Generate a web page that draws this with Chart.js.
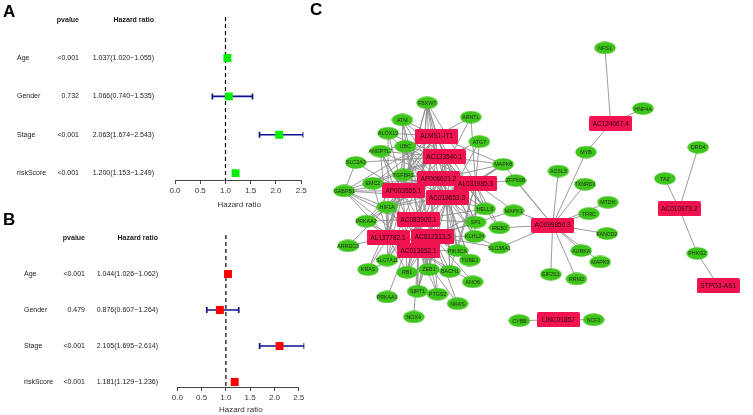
<!DOCTYPE html>
<html>
<head>
<meta charset="utf-8">
<script src="https://cdn.jsdelivr.net/npm/chart.js@4.4.1/dist/chart.umd.min.js"></script>
<style>
body { margin: 0; background: #fff; font-family: "Liberation Sans", Arial, sans-serif; }
#wrap { position: relative; width: 753px; height: 415px; overflow: hidden; }
canvas { position: absolute; }
.tag { position: absolute; font-weight: bold; font-size: 17px; line-height: 17px; color: #000; }
</style>
</head>
<body>
<div id="wrap">
  <canvas id="forestA" width="310" height="215" style="left:0;top:0"></canvas>
  <canvas id="forestB" width="310" height="215" style="left:0;top:200px"></canvas>
  <canvas id="network" width="453" height="415" style="left:300px;top:0"></canvas>
  <div class="tag" style="left:3px;top:3px">A</div>
  <div class="tag" style="left:3px;top:211px">B</div>
  <div class="tag" style="left:310px;top:1px">C</div>
</div>
<script>
// forest plots (A = univariate, B = multivariate)
const rowNames = ['Age', 'Gender', 'Stage', 'riskScore'];
const pvalA = ['<0.001', '0.732', '<0.001', '<0.001'];
const hrA = [1.037, 1.066, 2.063, 1.200];
const lowA = [1.020, 0.740, 1.674, 1.153];
const highA = [1.055, 1.535, 2.543, 1.249];
const pvalB = ['<0.001', '0.479', '<0.001', '<0.001'];
const hrB = [1.044, 0.876, 2.105, 1.181];
const lowB = [1.026, 0.607, 1.695, 1.129];
const highB = [1.062, 1.264, 2.614, 1.236];
const hrTicks = [0, 0.5, 1, 1.5, 2, 2.5];

// network (C): lncRNAs (red boxes) and genes (green ellipses), layout units
const lncNames = ['ALMS1-IT1', 'AC133540.1', 'AP006621.2', 'AL031985.3', 'AP003555.1', 'AC018653.3',
  'AC083900.1', 'AL137782.1', 'AC012313.5', 'AC013652.1', 'AC124067.4', 'AC099850.3',
  'AC010973.2', 'STPG3-AS1', 'LINC01857'];
const lncX = [432, 440, 434, 473, 397, 443, 413, 381, 428, 413, 615, 554, 687, 728, 560];
const lncY = [132, 154, 177, 182, 190, 197, 220, 239, 238, 253, 119, 226, 209, 290, 326];

const geneNames = ['FBXW7', 'ATM', 'ARNTL', 'ALOX12', 'ATG7', 'UBC', 'ANGPTL7', 'SLC2A3', 'MAPK8',
  'TGFBR1', 'ZFP69B', 'EMC2', 'GABPB1', 'HIF1A', 'HELLS', 'MAPK1', 'PRKAA2', 'SP1', 'IREB2',
  'KLHL24', 'ARRDC3', 'SLC38A1', 'PIK3CA', 'SLC7A11', 'TUBE1', 'KRAS', 'RB1', 'ZEB1', 'BACH1',
  'ANO6', 'SIRT1', 'PTGS2', 'PRKAA1', 'NRAS', 'NOX4', 'CYBB', 'NFS1', 'HNF4A', 'MYB', 'DRD4',
  'ACSL3', 'TAZ', 'TXNRD1', 'MTDH', 'TFRC', 'FANCD2', 'AURKA', 'PHKG2', 'MAPK9', 'EIF2S1',
  'RRM2', 'NCF2'];
const geneX = [422, 396, 468, 381, 477, 399, 373, 347, 502, 397, 515, 365, 335, 380, 483, 513,
  358, 473, 498, 472, 339, 498, 454, 380, 467, 360, 401, 424, 446, 470, 412, 433, 380, 454,
  408, 519, 609, 649, 589, 707, 560, 672, 588, 612, 592, 611, 584, 706, 604, 552, 579, 597];
const geneY = [97, 115, 112, 129, 138, 143, 148, 160, 162, 173, 179, 182, 190, 207, 209, 211,
  222, 223, 229, 238, 248, 250, 253, 263, 263, 273, 276, 273, 275, 286, 296, 299, 302, 309,
  323, 327, 39, 103, 149, 144, 169, 177, 183, 202, 214, 235, 253, 256, 265, 278, 283, 326];

const hubLinks = [
  ['ALMS1-IT1', 'FBXW7 ATM ARNTL ALOX12 UBC ANGPTL7 TGFBR1 EMC2 GABPB1 HIF1A PRKAA2 SLC7A11 RB1 ZEB1 SP1 HELLS MAPK8 KLHL24'],
  ['AC133540.1', 'FBXW7 ATM ALOX12 UBC ANGPTL7 ATG7 MAPK8 TGFBR1 SLC2A3 EMC2 GABPB1 HIF1A HELLS SP1 IREB2 PIK3CA ZEB1 BACH1 SIRT1'],
  ['AP006621.2', 'FBXW7 ATM UBC ANGPTL7 TGFBR1 EMC2 GABPB1 HIF1A PRKAA2 MAPK8 HELLS SP1 KLHL24 PIK3CA TUBE1 RB1 SLC7A11'],
  ['AL031985.3', 'FBXW7 ARNTL ATG7 MAPK8 ZFP69B HELLS MAPK1 SP1 IREB2 KLHL24 UBC TGFBR1 HIF1A PIK3CA BACH1'],
  ['AP003555.1', 'ATM ALOX12 ANGPTL7 SLC2A3 EMC2 GABPB1 HIF1A PRKAA2 ARRDC3 SLC7A11 KRAS RB1 TGFBR1 UBC FBXW7 ZEB1'],
  ['AC018653.3', 'FBXW7 UBC TGFBR1 MAPK8 HELLS SP1 KLHL24 PIK3CA TUBE1 ZEB1 BACH1 SIRT1 HIF1A GABPB1 EMC2 ALOX12'],
  ['AC083900.1', 'FBXW7 ATM UBC ANGPTL7 GABPB1 HIF1A PRKAA2 SLC7A11 RB1 ZEB1 SIRT1 PTGS2 SP1 HELLS MAPK8 ARNTL PRKAA1'],
  ['AL137782.1', 'ANGPTL7 GABPB1 HIF1A PRKAA2 ARRDC3 KRAS SLC7A11 RB1 ALOX12 EMC2 TGFBR1 UBC FBXW7'],
  ['AC012313.5', 'FBXW7 ATM UBC TGFBR1 GABPB1 HIF1A HELLS SP1 KLHL24 PIK3CA TUBE1 BACH1 ZEB1 RB1 SIRT1 PTGS2 NRAS ANO6 MAPK1 SLC38A1'],
  ['AC013652.1', 'GABPB1 HIF1A PRKAA2 SLC7A11 RB1 ZEB1 SIRT1 PTGS2 NRAS BACH1 PIK3CA KRAS ANGPTL7 FBXW7 ATG7 NOX4 ANO6'],
  ['AC099850.3', 'ZFP69B MAPK8 MAPK1 IREB2 SLC38A1 MYB ACSL3 TXNRD1 MTDH TFRC FANCD2 AURKA MAPK9 RRM2 EIF2S1'],
  ['AC124067.4', 'NFS1 HNF4A MYB'],
  ['AC010973.2', 'TAZ DRD4 PHKG2'],
  ['STPG3-AS1', 'PHKG2'],
  ['LINC01857', 'CYBB NCF2'],
  ['SLC2A3', 'GABPB1'],
  ['KLHL24', 'SLC38A1']
];

const FONT = '"Liberation Sans", Arial, sans-serif';

function forest(id, pv, hr, low, high, color, lay) {
  const whisk = [];
  low.forEach((l, i) => {
    whisk.push({x: l, y: i + 1}, {x: high[i], y: i + 1}, {x: high[i], y: null});
  });
  const table = {
    id: 'table',
    afterDraw(chart) {
      const ctx = chart.ctx, ys = chart.scales.y, xs = chart.scales.x;
      ctx.save();
      ctx.fillStyle = '#1a1a1a';
      ctx.textBaseline = 'middle';
      ctx.textAlign = 'right';
      ctx.font = 'bold 7px ' + FONT;
      ctx.fillText('pvalue', lay.pCol, lay.headY);
      ctx.fillText('Hazard ratio', lay.hrCol, lay.headY);
      ctx.font = '7px ' + FONT;
      rowNames.forEach((n, i) => {
        const y = ys.getPixelForValue(i + 1);
        ctx.textAlign = 'left';
        ctx.fillText(n, lay.nameCol, y);
        ctx.textAlign = 'right';
        ctx.fillText(pv[i], lay.pCol, y);
        ctx.fillText(hr[i].toFixed(3) + '(' + low[i].toFixed(3) + '\u2212' + high[i].toFixed(3) + ')', lay.hrCol, y);
      });
      // axis line only runs between the labelled ticks, like R's axis()
      const yb = Math.round(chart.chartArea.bottom) + 0.5;
      ctx.strokeStyle = '#444';
      ctx.lineWidth = 1;
      ctx.beginPath();
      ctx.moveTo(xs.getPixelForValue(hrTicks[0]), yb);
      ctx.lineTo(xs.getPixelForValue(hrTicks[hrTicks.length - 1]), yb);
      ctx.stroke();
      ctx.restore();
    }
  };
  return new Chart(document.getElementById(id), {
    type: 'scatter',
    data: {
      datasets: [
        {
          data: hr.map((v, i) => ({x: v, y: i + 1})),
          pointStyle: 'rect', pointRadius: 5.6,
          backgroundColor: color, borderWidth: 0, order: 0
        },
        {
          data: whisk, showLine: true,
          borderColor: '#10108c', borderWidth: 1.7,
          pointStyle: 'line', rotation: 90, pointRadius: 3,
          pointBorderColor: '#10108c', pointBorderWidth: 1.7, order: 1
        },
        {
          data: [{x: 1, y: lay.yMin}, {x: 1, y: lay.yMax}], showLine: true,
          borderColor: '#000', borderWidth: 1.2, borderDash: [4, 3],
          pointRadius: 0, order: 2
        }
      ]
    },
    options: {
      responsive: false,
      animation: false,
      events: [],
      layout: {padding: {left: lay.left, right: lay.right, top: lay.top, bottom: lay.bottom}},
      plugins: {legend: {display: false}, tooltip: {enabled: false}},
      scales: {
        x: {
          type: 'linear', min: 0, max: Math.max(...high),
          afterBuildTicks: s => { s.ticks = hrTicks.map(v => ({value: v})); },
          afterFit: s => { s.height = lay.axisH; },
          border: {display: false},
          grid: {drawOnChartArea: false, drawTicks: true, tickLength: 4, color: '#444'},
          ticks: {padding: 2, color: '#333', font: {family: FONT, size: 8}, callback: v => v.toFixed(1)},
          title: {display: true, text: 'Hazard ratio', color: '#333', font: {family: FONT, size: 8}, padding: 0}
        },
        y: {type: 'linear', reverse: true, min: lay.yMin, max: lay.yMax, display: false}
      }
    },
    plugins: [table]
  });
}

forest('forestA', pvalA, hrA, lowA, highA, '#00ee00', {
  left: 175, right: 6.6, top: 17, bottom: 5, axisH: 30, yMin: -0.07, yMax: 4.18,
  headY: 20, nameCol: 17, pCol: 79, hrCol: 154
});
forest('forestB', pvalB, hrB, lowB, highB, '#ff0000', {
  left: 177.3, right: 5.7, top: 35, bottom: 0, axisH: 28, yMin: -0.083, yMax: 4.139,
  headY: 38, nameCol: 24, pCol: 85, hrCol: 158
});

// node glyphs
function glyph(w, h, fill, oval) {
  const c = document.createElement('canvas');
  c.width = w; c.height = h;
  const g = c.getContext('2d');
  g.fillStyle = fill;
  g.beginPath();
  if (oval) g.ellipse(w / 2, h / 2, w / 2 - 0.3, h / 2 - 0.3, 0, 0, Math.PI * 2);
  else g.roundRect(0, 0, w, h, 1.5);
  g.fill();
  return c;
}

const pos = {};
lncNames.forEach((n, i) => { pos[n] = {x: lncX[i], y: lncY[i]}; });
geneNames.forEach((n, i) => { pos[n] = {x: geneX[i], y: geneY[i]}; });
const edgePts = [];
hubLinks.forEach(([a, list]) => {
  list.split(' ').forEach(b => {
    edgePts.push({x: pos[a].x, y: pos[a].y}, {x: pos[b].x, y: pos[b].y}, {x: pos[b].x, y: null});
  });
});

const nodeLabels = {
  id: 'nodeLabels',
  afterDatasetDraw(chart, args) {
    const ds = chart.data.datasets[args.index];
    if (!ds.labels) return;
    const ctx = chart.ctx;
    ctx.save();
    ctx.font = ds.labelFont;
    ctx.fillStyle = ds.labelColor;
    ctx.textAlign = 'center';
    ctx.textBaseline = 'middle';
    args.meta.data.forEach((el, i) => ctx.fillText(ds.labels[i], el.x, el.y + 0.5));
    ctx.restore();
  }
};

new Chart(document.getElementById('network'), {
  type: 'scatter',
  data: {
    datasets: [
      {
        data: lncNames.map(n => pos[n]), labels: lncNames,
        labelFont: '6.5px ' + FONT, labelColor: '#2a0610',
        pointStyle: glyph(43, 15, '#f0134f', false), pointRadius: 10, order: 0
      },
      {
        data: geneNames.map(n => pos[n]), labels: geneNames,
        labelFont: '5.3px ' + FONT, labelColor: '#1c2a10',
        pointStyle: glyph(22, 13, '#3fc41b', true), pointRadius: 8, order: 1
      },
      {
        data: edgePts, showLine: true,
        borderColor: '#8e8e8e', borderWidth: 0.9, pointRadius: 0, order: 2
      }
    ]
  },
  options: {
    responsive: false,
    animation: false,
    events: [],
    layout: {padding: 0},
    plugins: {legend: {display: false}, tooltip: {enabled: false}},
    scales: {
      x: {type: 'linear', min: 300, max: 753, display: false},
      y: {type: 'linear', min: 0, max: 415, reverse: true, display: false}
    }
  },
  plugins: [nodeLabels]
});
</script>
</body>
</html>
